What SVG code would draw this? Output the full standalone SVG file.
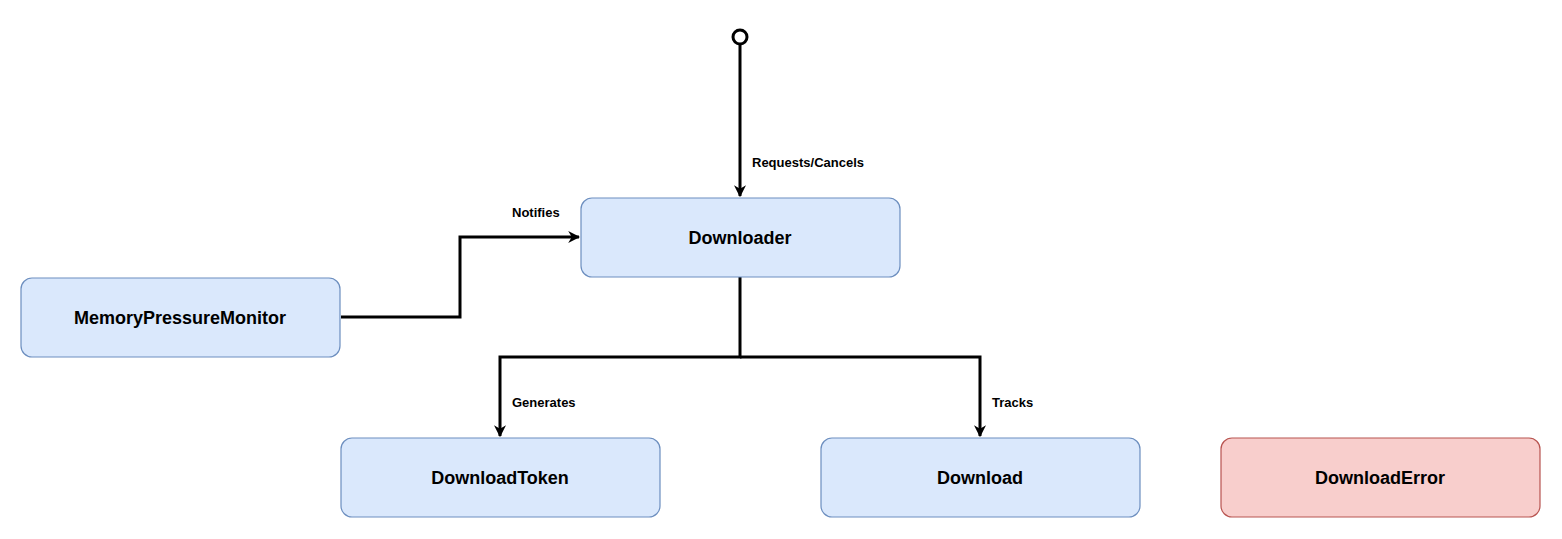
<svg xmlns="http://www.w3.org/2000/svg" width="1562" height="539" viewBox="0 0 1562 539">
<style>
.n{fill:#dae8fc;stroke:#6c8ebf;stroke-width:1.2}
.e{fill:#f8cecc;stroke:#b85450;stroke-width:1.2}
.t{font-family:"Liberation Sans",Arial,sans-serif;font-weight:bold;font-size:18px;text-anchor:middle;dominant-baseline:central;fill:#000}
.l{font-family:"Liberation Sans",Arial,sans-serif;font-weight:bold;font-size:13px;fill:#000}
.c{fill:none;stroke:#000;stroke-width:3}
</style>
<defs><marker id="a" viewBox="0 0 10 10" refX="9" refY="5" markerWidth="4" markerHeight="4" orient="auto" markerUnits="strokeWidth"><path d="M0,0 L10,5 L0,10 L3,5 Z" fill="#000"/></marker></defs>
<rect width="1562" height="539" fill="#fff"/>
<g id="connectors">
<circle cx="740" cy="37" r="7" fill="#fff" stroke="#000" stroke-width="3"/>
<path class="c" d="M740,44 V196" marker-end="url(#a)"/>
<path class="c" d="M341,317 H460 V237 H579" marker-end="url(#a)"/>
<path class="c" d="M740,277 V357 H500 V436" marker-end="url(#a)"/>
<path class="c" d="M740,357 H980 V436" marker-end="url(#a)"/>
<text class="l" x="752" y="167">Requests/Cancels</text>
<text class="l" x="512" y="217">Notifies</text>
<text class="l" x="512" y="407">Generates</text>
<text class="l" x="992" y="407">Tracks</text>
</g>
<g id="Downloader"><rect class="n" x="581" y="198" width="319" height="79" rx="11"/><text class="t" x="740" y="238">Downloader</text></g>
<g id="MemoryPressureMonitor"><rect class="n" x="21" y="278" width="319" height="79" rx="11"/><text class="t" x="180" y="318">MemoryPressureMonitor</text></g>
<g id="DownloadToken"><rect class="n" x="341" y="438" width="319" height="79" rx="11"/><text class="t" x="500" y="478">DownloadToken</text></g>
<g id="Download"><rect class="n" x="821" y="438" width="319" height="79" rx="11"/><text class="t" x="980" y="478">Download</text></g>
<g id="DownloadError"><rect class="e" x="1221" y="438" width="319" height="79" rx="11"/><text class="t" x="1380" y="478">DownloadError</text></g>
</svg>
